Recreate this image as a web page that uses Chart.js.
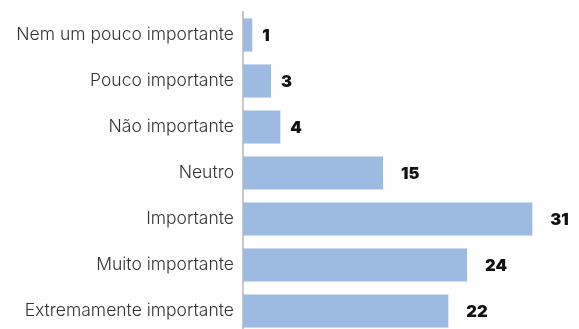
<!DOCTYPE html>
<html>
<head>
<meta charset="utf-8">
<script src="https://cdn.jsdelivr.net/npm/chart.js@4"></script>
<style>
  html, body { margin: 0; padding: 0; background: #fff; overflow: hidden; }
  #wrap { width: 579px; height: 336px; position: relative; }
</style>
</head>
<body>
<div id="wrap"><canvas id="myChart"></canvas></div>
<script>
const categories = [
  "Nem um pouco importante",
  "Pouco importante",
  "Não importante",
  "Neutro",
  "Importante",
  "Muito importante",
  "Extremamente importante",
];
const counts = [1, 3, 4, 15, 31, 24, 22];

// value labels drawn at the end of each bar
const valueLabels = {
  id: "valueLabels",
  afterDatasetsDraw(chart) {
    const ctx = chart.ctx;
    const meta = chart.getDatasetMeta(0);
    ctx.save();
    ctx.font = "900 16.5px Inter";
    ctx.fillStyle = "#111";
    ctx.textBaseline = "middle";
    meta.data.forEach((bar, i) => {
      const gap = counts[i] < 10 ? 10 : 18;
      ctx.fillText(String(counts[i]), bar.x + gap, bar.y + 1);
    });
    ctx.restore();
  },
};

const config = {
  type: "bar",
  data: {
    labels: categories,
    datasets: [
      {
        data: counts,
        backgroundColor: "#9dbae2",
        barPercentage: 0.72,
        categoryPercentage: 1,
      },
    ],
  },
  options: {
    indexAxis: "y",
    maintainAspectRatio: false,
    animation: false,
    layout: {
      padding: { top: 12, bottom: 2, right: 0, left: 0 },
    },
    scales: {
      x: {
        display: false,
        min: 0,
        max: 36,
        grid: { display: false },
      },
      y: {
        grid: { display: false, drawTicks: false },
        border: { display: true, color: "#c8c8c8", width: 2 },
        ticks: {
          color: "#333",
          padding: 9,
          font: { family: "Inter", size: 17.5, weight: 300 },
        },
        afterFit(scale) {
          scale.width = 243;
          scale.paddingTop = 0;
          scale.paddingBottom = 0;
        },
      },
    },
    plugins: {
      legend: { display: false },
      tooltip: { enabled: false },
    },
  },
  plugins: [valueLabels],
};

const myChart = new Chart(document.getElementById("myChart"), config);
</script>
</body>
</html>
